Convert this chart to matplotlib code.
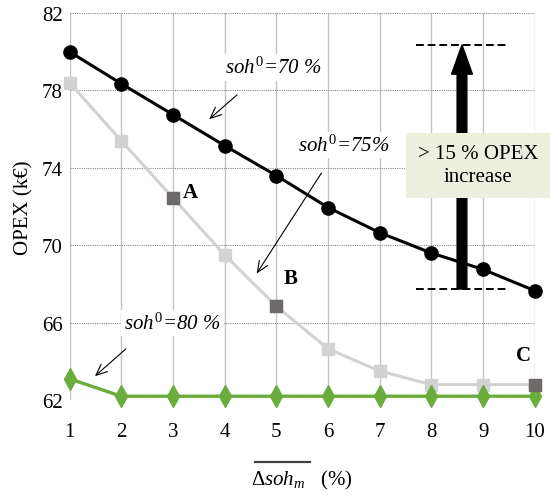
import matplotlib
matplotlib.use('Agg')
import matplotlib.pyplot as plt
from matplotlib.lines import Line2D

plt.rcParams['font.family'] = ['Liberation Serif', 'DejaVu Serif']
plt.rcParams['mathtext.fontset'] = 'custom'
plt.rcParams['mathtext.rm'] = 'Liberation Serif'
plt.rcParams['mathtext.it'] = 'Liberation Serif:italic'
plt.rcParams['mathtext.bf'] = 'Liberation Serif:bold'

# OPEX (k€) against mean SOH drop, for three initial SOH levels
dsoh = [1, 2, 3, 4, 5, 6, 7, 8, 9, 10]
opex_70 = [80.0, 78.35, 76.75, 75.15, 73.6, 71.95, 70.65, 69.6, 68.75, 67.65]
opex_75 = [78.4, 75.4, 72.45, 69.5, 66.85, 64.65, 63.5, 62.8, 62.8, 62.8]
opex_80 = [63.1, 62.2, 62.2, 62.2, 62.2, 62.2, 62.2, 62.2, 62.2, 62.2]

# highlighted cases A, B, C on the 75 % curve
marked_idx = [2, 4, 9]
marked_names = ['A', 'B', 'C']

# OPEX bounds for the increase arrow
opex_low = 67.74
opex_high = 80.35

fig = plt.figure(figsize=(5.52, 5.02), dpi=100)
ax = fig.add_axes([0.126, 0.201, 0.843, 0.771])

ax.set_xlim(1, 10)
ax.set_ylim(62, 82)
ax.set_xticks(dsoh)
ax.set_yticks([62, 66, 70, 74, 78, 82])
for s in ax.spines.values():
    s.set_visible(False)
ax.tick_params(length=0, labelsize=15)
ax.tick_params(axis='x', pad=16)
ax.tick_params(axis='y', pad=5)

# grid: solid light verticals, fine dotted horizontals
ax.grid(axis='x', color='#c4c4c4', lw=1.0, zorder=0)
ax.grid(axis='y', color='#8a8a8a', lw=0.8, linestyle=(0, (1, 1)), zorder=0)
ax.set_axisbelow(True)

ax.plot(dsoh, opex_70, color='black', lw=2.2, marker='o', ms=9.5, zorder=4, clip_on=False)
ax.plot(dsoh, opex_75, color='#d2d2d2', lw=2.2, marker='s', ms=8, zorder=3, clip_on=False)
ax.plot(dsoh, opex_80, color='#6aad3d', lw=2.4, marker='d', ms=11, zorder=3, clip_on=False)

mx = [dsoh[i] for i in marked_idx]
my = [opex_75[i] for i in marked_idx]
ax.plot(mx, my, linestyle='none', marker='s', ms=8, color='#6e6a6a', zorder=5, clip_on=False)

for (x, y, name), off in zip(zip(mx, my, marked_names), [(7, 4), (5, 20), (-3, 21)]):
    ax.annotate(name, (x, y), xytext=off, textcoords='offset points',
                fontsize=15, fontweight='bold', ha='left' if off[0] > 0 else 'right',
                va='center', zorder=6)

white = dict(facecolor='white', edgecolor='none', pad=2)
arrow_kw = dict(arrowstyle='->,head_length=0.8,head_width=0.35', color='black', lw=0.8)

ax.text(4.94, 79.2, r'$soh^0$=70 %', style='italic', fontsize=15,
        ha='center', va='center', bbox=white, zorder=2)
ax.annotate('', xy=(3.66, 76.42), xytext=(4.28, 77.87), arrowprops=arrow_kw, zorder=6)

ax.text(6.31, 75.18, r'$soh^0$=75%', style='italic', fontsize=15,
        ha='center', va='center', bbox=white, zorder=2)
ax.annotate('', xy=(4.59, 68.42), xytext=(5.90, 73.85), arrowprops=arrow_kw, zorder=6)

ax.text(2.98, 65.98, r'$soh^0$=80 %', style='italic', fontsize=15,
        ha='center', va='center', bbox=white, zorder=2)
ax.annotate('', xy=(1.45, 63.14), xytext=(2.13, 64.74), arrowprops=arrow_kw, zorder=6)

# OPEX increase arrow between the two dashed levels
ax.hlines([opex_high, opex_low], 7.70, 9.46, colors='black', lw=1.4,
          linestyles=(0, (4, 2)), zorder=5)
ax.annotate('', xy=(8.59, opex_high), xytext=(8.59, opex_low),
            arrowprops=dict(width=7, headwidth=15, headlength=21, shrink=0,
                            facecolor='black', edgecolor='black'), zorder=5)
ax.text(8.90, 74.14, '> 15 % OPEX\nincrease', fontsize=15, ha='center', va='center',
        linespacing=1.3, zorder=7,
        bbox=dict(boxstyle='square,pad=0.55', facecolor='#edf0df', edgecolor='none'))

ax.set_ylabel('OPEX (k€)', fontsize=15, labelpad=6)
xl = ax.set_xlabel(r'$\Delta soh_m$   (%)', fontsize=15, labelpad=19)

# overline (mean) above the delta-soh part of the x label, set a bit higher than mathtext does
fig.canvas.draw()
rend = fig.canvas.get_renderer()
bb = xl.get_window_extent(rend)
tmp = fig.text(0, 0, r'$\Delta soh_m$', fontsize=15)
w = tmp.get_window_extent(rend).width
tmp.remove()
W, H = fig.bbox.width, fig.bbox.height
y_bar = (bb.y1 + 6) / H
x0 = bb.x0 + 4
fig.add_artist(Line2D([x0 / W, (x0 + w) / W], [y_bar, y_bar],
                      transform=fig.transFigure, color='#404040', lw=1.6))

fig.savefig('out.png', dpi=100, facecolor='white')
